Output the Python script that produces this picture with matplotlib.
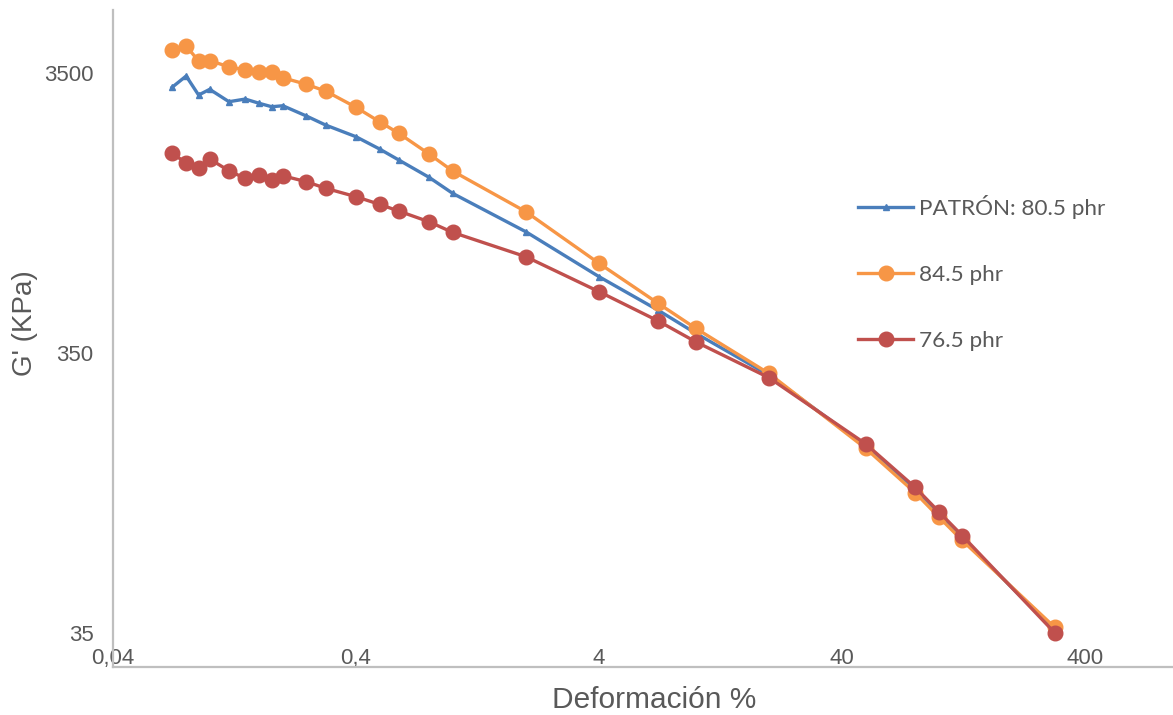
import matplotlib
matplotlib.use("Agg")
from matplotlib import pyplot as plt

# datos (deformacion %, G' en KPa)
deformacion = [0.07, 0.08, 0.09, 0.1, 0.12, 0.14, 0.16, 0.18, 0.2, 0.25, 0.3, 0.4, 0.5,
               0.6, 0.8, 1, 2, 4, 7, 10, 20, 50, 80, 100, 125, 300]
g_patron = [3112, 3415, 2921, 3061, 2765, 2826, 2728, 2653, 2675, 2458, 2282, 2073, 1874,
            1712, 1484, 1301, 949, 656, 498, 412, 292, 163, 113, 93, 76.5, 35.8]
g_845 = [4229, 4372, 3864, 3872, 3686, 3587, 3520, 3520, 3367, 3189, 3017, 2640, 2345,
         2132, 1798, 1563, 1119, 732, 527, 429, 296, 160, 111, 91, 75, 36.7]
g_765 = [1817, 1666, 1606, 1726, 1567, 1472, 1513, 1452, 1504, 1432, 1357, 1266, 1189,
         1125, 1030, 944, 773, 580, 456, 384, 286, 166, 116, 95, 78, 35.1]

x_ticks = [0.04, 0.4, 4, 40, 400]
x_tick_labels = ["0,04", "0,4", "4", "40", "400"]
y_ticks = [35, 350, 3500]
y_tick_labels = ["35", "350", "3500"]

gris = "#595959"
plt.rcParams['font.family'] = ['Liberation Sans', 'DejaVu Sans']

fig = plt.figure(figsize=(11.73, 7.15), dpi=100)
ax = fig.add_axes([113 / 1173, 1 - 667 / 715, 1 - 113 / 1173, (667 - 10) / 715])

ax.plot(deformacion, g_patron, color="#4A7EBB", lw=2.4, marker="^", ms=4.5,
        label="PATRÓN: 80.5 phr")
ax.plot(deformacion, g_845, color="#F79646", lw=2.4, marker="o", ms=10.5,
        label="84.5 phr")
ax.plot(deformacion, g_765, color="#C0504D", lw=2.4, marker="o", ms=10.5,
        label="76.5 phr")

ax.set_xscale("log")
ax.set_yscale("log")
ax.set_xlim(0.04, 920)
ax.set_ylim(26.5, 5877)

ax.set_xticks(x_ticks)
ax.set_xticklabels(x_tick_labels)
ax.set_yticks(y_ticks)
ax.set_yticklabels(y_tick_labels)
ax.minorticks_off()
ax.tick_params(axis="both", length=0, labelsize=16, colors=gris)
ax.tick_params(axis="y", pad=14)
ax.tick_params(axis="x", pad=-14)

for s in ["top", "right"]:
    ax.spines[s].set_visible(False)
for s in ["left", "bottom"]:
    ax.spines[s].set_color("#BFBFBF")
    ax.spines[s].set_linewidth(1.6)

fig.text(654 / 1173, 1 - 700 / 715, "Deformación %", fontsize=21.5, color=gris,
         ha="center", va="center")
fig.text(25 / 1173, 1 - 323 / 715, "G' (KPa)", fontsize=20, color=gris,
         ha="center", va="center", rotation=90)

leg = fig.legend(loc="upper left", bbox_to_anchor=(858 / 1173, 1 - 195 / 715),
                 frameon=False, borderpad=0, borderaxespad=0, handlelength=2.45,
                 handletextpad=0.25, labelspacing=2.05, markerscale=1.0,
                 prop={"family": "Lato", "size": 16.2})
for t in leg.get_texts():
    t.set_color(gris)

fig.savefig("out.png", dpi=100)
